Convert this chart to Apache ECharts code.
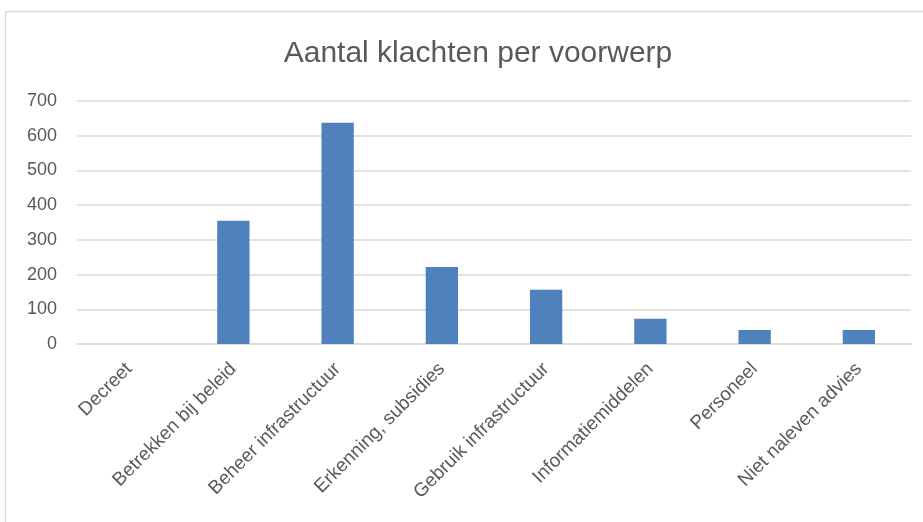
<!DOCTYPE html>
<html>
<head>
<meta charset="utf-8">
<script src="https://cdn.jsdelivr.net/npm/echarts@6.0.0/dist/echarts.min.js"></script>
<style>
    html, body { margin: 0; padding: 0; background: #fff; }
    #chart { width: 923px; height: 522px; }
</style>
</head>
<body>
<div id="chart"></div>
<script>
    // categorieën en aantallen
    var categories = ['Decreet', 'Betrekken bij beleid', 'Beheer infrastructuur', 'Erkenning, subsidies',
        'Gebruik infrastructuur', 'Informatiemiddelen', 'Personeel', 'Niet naleven advies'];
    var counts = [0, 355, 637, 222, 156, 73, 40, 40];
    var yTicks = [0, 100, 200, 300, 400, 500, 600, 700];

    var textColor = '#595959';
    var fontFamily = '"Liberation Sans", "DejaVu Sans", sans-serif';

    var myChart = echarts.init(document.getElementById('chart'));
    var option = {
        backgroundColor: '#fff',
        animation: false,
        graphic: [{
            type: 'rect',
            shape: { x: 5.5, y: 11.5, width: 940, height: 540 },
            style: { fill: 'none', stroke: '#d9d9d9', lineWidth: 1.5 },
            silent: true
        }],
        title: {
            text: 'Aantal klachten per voorwerp',
            left: 473,
            top: 34,
            textAlign: 'center',
            textStyle: { color: textColor, fontSize: 30, fontWeight: 'normal', fontFamily: fontFamily }
        },
        grid: { left: 77, right: 12, top: 101, bottom: 178, containLabel: false },
        xAxis: {
            type: 'category',
            data: categories,
            axisLine: { lineStyle: { color: '#d9d9d9', width: 1.5 } },
            axisTick: { show: false },
            axisLabel: {
                rotate: 45,
                interval: 0,
                margin: 22,
                color: textColor,
                fontSize: 19,
                fontFamily: fontFamily
            }
        },
        yAxis: {
            type: 'value',
            min: yTicks[0],
            max: yTicks[yTicks.length - 1],
            interval: 100,
            axisLine: { show: false },
            axisTick: { show: false },
            splitLine: { lineStyle: { color: '#d9d9d9', width: 1.5 } },
            axisLabel: { color: textColor, fontSize: 18, fontFamily: fontFamily, margin: 20 }
        },
        series: [{
            type: 'bar',
            data: counts,
            barWidth: '31%',
            itemStyle: { color: '#4f81bd' }
        }]
    };
    myChart.setOption(option);
</script>
</body>
</html>
